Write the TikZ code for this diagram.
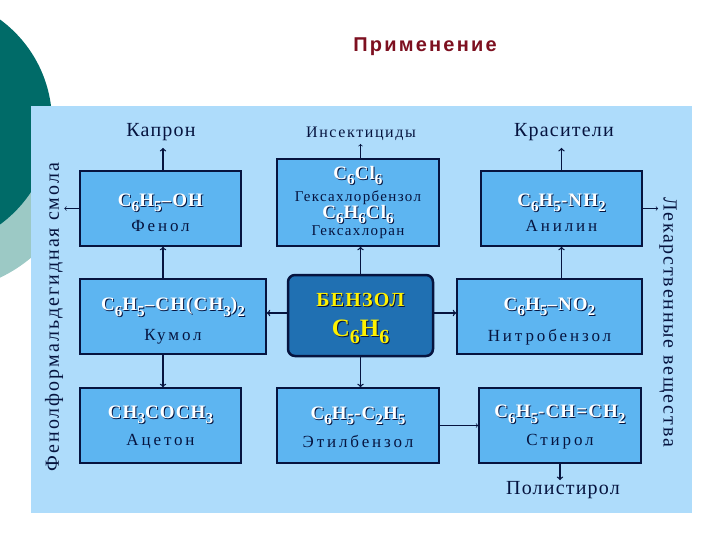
\documentclass[tikz,border=0pt]{standalone}
\usepackage{fontspec}
\setmainfont{Liberation Serif}
\setsansfont{Liberation Sans}
\usepackage{xcolor}
\usetikzlibrary{positioning}
\definecolor{tealdark}{HTML}{006B68}
\definecolor{teallight}{HTML}{9CC9C5}
\definecolor{panelblue}{HTML}{AEDCFB}
\definecolor{boxblue}{HTML}{5DB5F1}
\definecolor{benzblue}{HTML}{2070B2}
\definecolor{inkblue}{HTML}{06143F}
\definecolor{titlered}{HTML}{7D1020}
\newcommand{\lowr}[1]{\raisebox{-.28em}{\scalebox{.8}{#1}}}
\newcommand{\headroom}[1]{\rule{0pt}{#1pt}}
\newcommand{\shade}[2]{\leavevmode\rlap{\kern1pt\raisebox{-1pt}{\color{inkblue}#2}}\textcolor{#1}{#2}}
\newcommand{\chem}[1]{\shade{white}{\fontsize{19}{20}\selectfont\bfseries\addfontfeature{LetterSpace=6}#1}}
\newcommand{\sname}[1]{{\fontsize{17}{20}\selectfont\addfontfeature{LetterSpace=17}\color{inkblue}#1}}
\newcommand{\hname}[1]{{\fontsize{15}{20}\selectfont\addfontfeature{LetterSpace=9}\color{inkblue}#1}}
\tikzset{
  chembox/.style={draw=inkblue, fill=boxblue, line width=1.5pt, align=center, inner sep=0pt, minimum height=75pt},
  product/.style={text=inkblue, font=\fontsize{20}{22}\selectfont\addfontfeature{LetterSpace=6}, inner sep=1pt},
  link/.style={->, draw=inkblue, line width=1.3pt},
  thinlink/.style={->, draw=inkblue, line width=.7pt},
}
\begin{document}
\begin{tikzpicture}[x=1pt, y=-1pt]
  \useasboundingbox (0,0) rectangle (720,540);
  % backdrop
  \begin{scope}
    \clip (0,150) rectangle (31,300);
    \fill[teallight] (-60,150) circle[radius=141];
  \end{scope}
  \fill[tealdark] (-75,122) circle[radius=127];
  \fill[panelblue] (31,106) rectangle (692,513);
  \node[font=\sffamily\bfseries\fontsize{20}{22}\selectfont\addfontfeature{LetterSpace=11}, text=titlered] (title) at (425,47) {Применение};
  % middle
  \node[draw=inkblue, fill=benzblue, line width=2.5pt, rounded corners=7pt, align=center, inner sep=0pt,
    minimum width=145pt, minimum height=81pt] (benzene) at (360.5,315.5)
    {\headroom{20}\shade{yellow}{\fontsize{20}{22}\selectfont\bfseries\addfontfeature{LetterSpace=6}БЕНЗОЛ}\\[11pt]\shade{yellow}{\fontsize{25}{27}\selectfont\bfseries C\lowr{6}H\lowr{6}}};
  % boxes
  \node[chembox, minimum width=161pt] (phenol) at (160.5,208.5) {\headroom{21}\chem{C\lowr{6}H\lowr{5}–OH}\\[6pt]\sname{Фенол}};
  \node[chembox, minimum width=162pt, minimum height=87pt] (hexa) at (358,202.5)
    {\chem{C\lowr{6}Cl\lowr{6}}\\[4pt]\hname{Гексахлорбензол}\\[0pt]\chem{C\lowr{6}H\lowr{6}Cl\lowr{6}}\\[0pt]\hname{Гексахлоран}};
  \node[chembox, minimum width=161pt] (aniline) at (561.5,208.5) {\headroom{21}\chem{C\lowr{6}H\lowr{5}-NH\lowr{2}}\\[6pt]\sname{Анилин}};
  \node[chembox, minimum width=186pt] (cumene) at (173,316.5) {\headroom{22}\chem{C\lowr{6}H\lowr{5}–CH(CH\lowr{3})\lowr{2}}\\[11pt]\sname{Кумол}};
  \node[chembox, minimum width=185pt] (nitro) at (549.5,316.5) {\headroom{22}\chem{C\lowr{6}H\lowr{5}–NO\lowr{2}}\\[11pt]\sname{Нитробензол}};
  \node[chembox, minimum width=161pt] (acetone) at (160.5,425.5) {\headroom{16}\chem{CH\lowr{3}COCH\lowr{3}}\\[9pt]\sname{Ацетон}};
  \node[chembox, minimum width=162pt] (ethyl) at (358,425.5) {\headroom{16}\chem{C\lowr{6}H\lowr{5}-C\lowr{2}H\lowr{5}}\\[9pt]\sname{Этилбензол}};
  \node[chembox, minimum width=162pt] (styrene) at (560,425.5) {\headroom{16}\chem{C\lowr{6}H\lowr{5}-CH=CH\lowr{2}}\\[9pt]\sname{Стирол}};
  % products
  \node[product] (capron) at (161,132) {Капрон};
  \node[product, font=\fontsize{16}{20}\selectfont\addfontfeature{LetterSpace=10}] (insect) at (361,134) {Инсектициды};
  \node[product] (dyes) at (564,132) {Красители};
  \node[product] (polystyrene) at (563,490) {Полистирол};
  \node[product, rotate=90, font=\fontsize{20}{22}\selectfont\addfontfeature{LetterSpace=10}] (resin) at (54,317) {Фенолформальдегидная смола};
  \node[product, rotate=-90, font=\fontsize{20}{22}\selectfont\addfontfeature{LetterSpace=9}] (drugs) at (668,322) {Лекарственные вещества};
  % links
  \coordinate (phenoltop) at ([xshift=2.5pt]phenol.north);
  \coordinate (phenolbot) at ([xshift=2.5pt]phenol.south);
  \coordinate (acetonetop) at ([xshift=2.5pt]acetone.north);
  \draw[link, shorten >=6pt] (phenoltop) -- (capron.south -| phenoltop);
  \draw[thinlink, shorten >=2pt] (hexa.north -| benzene.north) -- (insect.south -| benzene.north);
  \draw[link, shorten >=6pt] (aniline.north) -- (dyes.south -| aniline.north);
  \draw[thinlink] (phenol.west) -- (resin.south |- phenol.west);
  \draw[thinlink] (aniline.east) -- (drugs.south |- aniline.east);
  \draw[link] (cumene.north -| phenolbot) -- (phenolbot);
  \draw[link] (benzene.west |- 0,313) -- (cumene.east |- 0,313);
  \draw[link] (benzene.east |- 0,313) -- (nitro.west |- 0,313);
  \draw[link] (benzene.north) -- (hexa.south -| benzene.north);
  \draw[link] (benzene.south) -- (ethyl.north -| benzene.south);
  \draw[link] (nitro.north -| aniline.south) -- (aniline.south);
  \draw[link] (cumene.south -| acetonetop) -- (acetonetop);
  \draw[thinlink] (ethyl.east) -- (styrene.west);
  \draw[link] (styrene.south) -- (polystyrene.north -| styrene.south);
\end{tikzpicture}
\end{document}
